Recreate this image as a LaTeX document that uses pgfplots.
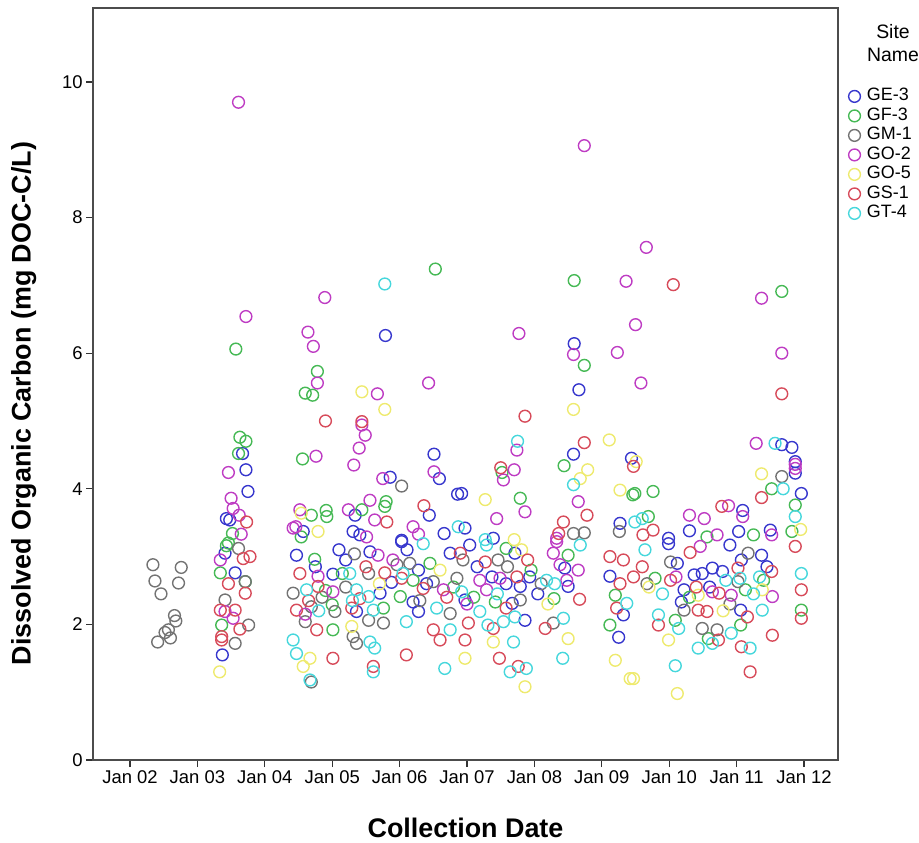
\documentclass[border=0pt]{standalone}
\usepackage{pgfplots}
\pgfplotsset{compat=1.18}
\usepackage{fontspec}
\setmainfont{Liberation Sans}
\definecolor{cGE}{RGB}{55,55,205}
\definecolor{cGF}{RGB}{70,185,85}
\definecolor{cGM}{RGB}{115,115,115}
\definecolor{cGO}{RGB}{190,60,195}
\definecolor{cGY}{RGB}{238,234,110}
\definecolor{cGS}{RGB}{215,75,90}
\definecolor{cGT}{RGB}{70,215,220}
\begin{document}
\begin{tikzpicture}
\begin{axis}[
  name=ax,
  scale only axis, width=745bp, height=752bp,
  xmin=2001.451, xmax=2012.504, ymin=0, ymax=11.09,
  xtick={2002,2003,2004,2005,2006,2007,2008,2009,2010,2011,2012},
  xticklabels={Jan 02,Jan 03,Jan 04,Jan 05,Jan 06,Jan 07,Jan 08,Jan 09,Jan 10,Jan 11,Jan 12},
  ytick={0,2,4,6,8,10},
  tick align=outside, tick pos=left, major tick length=7bp,
  axis line style={black!70, line width=1.2bp},
  every tick/.style={black!80, line width=1.2bp},
  tick label style={font=\fontsize{18.5}{18.5}\selectfont},
  /pgf/number format/assume math mode=true,
  xlabel={Collection Date},
  ylabel={Dissolved Organic Carbon (mg DOC-C/L)},
  label style={font=\bfseries\fontsize{27}{27}\selectfont},
  xlabel style={at={(axis description cs:0.5,-0.09)}, anchor=center},
  ylabel style={at={(axis description cs:-0.093,0.474)}, anchor=center},
  every axis plot/.append style={only marks, mark=o, mark size=5.9bp, line width=1.4bp},
  legend style={at={(axis description cs:1.014,0.893)}, anchor=north west,
    draw=none, fill=none, font=\fontsize{18}{18}\selectfont,
    row sep=4bp, inner sep=0pt,
    nodes={inner sep=0.5bp, text height=11.5bp, text depth=3bp},
    /tikz/every odd column/.append style={column sep=6bp}},
  legend cell align=left,
  legend image code/.code={\draw[mark repeat=2,mark phase=2,#1] plot coordinates {(0bp,0bp) (7bp,0bp) (14bp,0bp)};},
]
% GE-3
\addplot[color=cGE] coordinates {
(2005.79,6.26) (2008.59,6.14) (2008.66,5.46) (2003.67,4.52) (2003.72,4.28) (2003.75,3.96)
(2003.43,3.56) (2003.48,3.54) (2003.41,3.05) (2003.56,2.76) (2003.37,1.55) (2006.51,4.51)
(2005.86,4.17) (2006.59,4.15) (2006.86,3.92) (2006.44,3.61) (2005.34,3.61) (2004.57,3.37)
(2005.31,3.37) (2005.41,3.32) (2006.66,3.34) (2006.03,3.24) (2004.47,3.02) (2005.56,3.07)
(2006.03,3.22) (2006.11,3.10) (2006.75,3.05) (2006.28,2.80) (2005.01,2.74) (2005.71,2.46)
(2006.20,2.33) (2005.36,2.19) (2006.28,2.19) (2008.58,4.51) (2009.44,4.45) (2006.92,3.93)
(2006.97,3.42) (2009.27,3.49) (2007.39,3.27) (2007.04,3.17) (2007.71,3.05) (2008.45,2.83)
(2009.12,2.71) (2007.37,2.70) (2007.58,2.60) (2007.93,2.70) (2007.79,2.56) (2008.50,2.56)
(2006.97,2.36) (2007.67,2.31) (2009.32,2.14) (2007.86,2.06) (2009.25,1.81) (2011.67,4.65)
(2011.82,4.61) (2011.87,4.40) (2011.87,4.23) (2011.96,3.93) (2011.09,3.68) (2010.30,3.38)
(2011.03,3.37) (2011.50,3.39) (2009.99,3.27) (2009.99,3.19) (2010.90,3.17) (2011.37,3.02)
(2010.12,2.90) (2010.37,2.73) (2010.49,2.75) (2010.64,2.83) (2010.79,2.78) (2011.07,2.95)
(2010.22,2.51) (2010.18,2.33) (2011.06,2.21) (2005.10,3.10)
(2005.20,2.95) (2006.40,2.60) (2007.15,2.85) (2008.05,2.45) (2010.60,2.55) (2011.45,2.85)
(2004.75,2.85) (2005.88,2.62)
};
\addlegendentry{GE-3}
% GF-3
\addplot[color=cGF] coordinates {
(2006.53,7.24) (2003.57,6.06) (2004.78,5.73) (2008.59,7.07) (2011.67,6.91) (2008.74,5.82)
(2003.63,4.76) (2003.72,4.70) (2003.61,4.52) (2003.52,3.34) (2003.46,3.20) (2003.43,3.16)
(2003.34,2.76) (2003.71,2.63) (2003.36,1.99) (2004.60,5.41) (2004.71,5.38) (2004.56,4.44)
(2005.80,3.81) (2005.78,3.74) (2004.69,3.61) (2004.91,3.68) (2004.92,3.59) (2004.54,3.29)
(2004.74,2.96) (2006.45,2.90) (2006.01,2.41) (2005.00,2.29) (2005.76,2.24) (2005.01,1.92)
(2008.44,4.34) (2007.52,4.24) (2009.46,3.91) (2007.79,3.86) (2007.58,3.12) (2008.50,3.02)
(2007.42,2.33) (2008.29,2.38) (2009.20,2.43) (2009.12,1.99) (2011.52,4.00) (2009.49,3.93)
(2009.76,3.96) (2011.87,3.76) (2009.69,3.59) (2011.82,3.37) (2010.56,3.29) (2011.25,3.32)
(2009.79,2.68) (2011.13,2.51) (2011.06,1.99) (2010.09,2.06) (2010.58,1.79) (2011.96,2.21)
(2005.44,3.69)
(2005.15,2.75) (2006.20,2.65) (2007.10,2.40) (2007.95,2.80) (2010.30,2.40) (2011.40,2.65)
(2004.90,2.50) (2006.80,2.55)
};
\addlegendentry{GF-3}
% GM-1
\addplot[color=cGM] coordinates {
(2002.34,2.88) (2002.76,2.84) (2002.37,2.64) (2002.72,2.61) (2002.46,2.45) (2002.66,2.13)
(2002.68,2.05) (2002.57,1.92) (2002.52,1.88) (2002.41,1.74) (2002.60,1.80) (2003.61,3.12)
(2003.71,2.63) (2003.41,2.36) (2003.76,1.99) (2003.56,1.72) (2006.03,4.04) (2005.33,3.04)
(2005.96,2.88) (2006.15,2.90) (2005.54,2.75) (2006.50,2.63) (2006.85,2.68) (2004.42,2.46)
(2006.75,2.16) (2004.69,2.26) (2005.04,2.19) (2004.60,2.04) (2005.54,2.06) (2005.76,2.02)
(2005.31,1.82) (2005.36,1.72) (2004.69,1.15) (2008.58,3.34) (2008.74,3.35) (2009.26,3.37)
(2006.94,2.95) (2007.46,2.95) (2007.79,2.36) (2008.28,2.02) (2011.67,4.18) (2010.02,2.92)
(2011.17,3.05) (2009.67,2.60) (2011.02,2.63) (2010.22,2.21) (2010.49,1.94) (2010.71,1.92)
(2005.20,2.55) (2006.30,2.35) (2007.60,2.85) (2008.10,2.60) (2010.90,2.30) (2004.85,2.40)
};
\addlegendentry{GM-1}
% GO-2
\addplot[color=cGO] coordinates {
(2003.61,9.70) (2008.74,9.06) (2004.89,6.82) (2003.72,6.54) (2004.64,6.31) (2004.72,6.10)
(2004.78,5.56) (2006.43,5.56) (2009.66,7.56) (2009.36,7.06) (2011.37,6.81) (2007.77,6.29)
(2008.58,5.98) (2009.50,6.42) (2009.23,6.01) (2011.67,6.00) (2009.58,5.56) (2003.46,4.24)
(2003.50,3.86) (2003.53,3.71) (2003.62,3.61) (2003.65,3.33) (2004.42,3.42) (2003.34,2.95)
(2003.41,2.19) (2003.53,2.09) (2005.67,5.40) (2004.76,4.48) (2005.44,4.94) (2005.49,4.79)
(2005.40,4.60) (2005.32,4.35) (2005.75,4.15) (2006.51,4.25) (2005.56,3.83) (2004.52,3.69)
(2005.24,3.69) (2005.63,3.54) (2004.46,3.44) (2005.51,3.29) (2006.20,3.44) (2006.28,3.33)
(2005.68,3.02) (2004.79,2.71) (2005.01,2.48) (2006.65,2.51) (2007.74,4.57) (2007.70,4.28)
(2007.54,4.13) (2008.65,3.81) (2007.86,3.66) (2007.44,3.56) (2008.33,3.27) (2008.33,3.22)
(2008.28,3.05) (2008.38,2.88) (2007.19,2.65) (2007.49,2.68) (2008.48,2.65) (2007.29,2.51)
(2011.29,4.67) (2011.87,4.30) (2011.87,4.36) (2010.88,3.75) (2010.30,3.61) (2010.52,3.56)
(2011.09,3.59) (2011.52,3.32) (2010.71,3.32) (2010.46,3.15) (2010.64,2.48) (2010.92,2.43)
(2011.53,2.41)
(2005.90,2.95) (2007.00,2.30) (2008.65,2.80) (2010.10,2.70) (2004.60,2.15)
};
\addlegendentry{GO-2}
% GO-5
\addplot[color=cGY] coordinates {
(2005.44,5.43) (2005.78,5.17) (2004.54,3.64) (2004.79,3.37) (2005.29,1.97) (2004.67,1.50)
(2004.57,1.38) (2008.58,5.17) (2009.11,4.72) (2008.79,4.28) (2008.68,4.15) (2009.27,3.98)
(2007.27,3.84) (2007.70,3.25) (2008.50,1.79) (2007.39,1.74) (2009.20,1.47) (2006.97,1.50)
(2007.86,1.08) (2009.42,1.20) (2009.51,4.40) (2011.37,4.22) (2011.38,2.51) (2009.99,1.77)
(2009.47,1.20) (2010.12,0.98) (2011.95,3.40) (2010.43,2.43) (2007.81,3.10) (2003.33,1.30)
(2005.70,2.60) (2006.60,2.80) (2008.20,2.30) (2009.70,2.55) (2010.80,2.20)
};
\addlegendentry{GO-5}
% GS-1
\addplot[color=cGS] coordinates {
(2010.06,7.01) (2011.67,5.40) (2003.73,3.51) (2003.68,2.97) (2003.78,3.00) (2003.46,2.60)
(2003.71,2.46) (2003.34,2.21) (2003.56,2.21) (2003.63,1.93) (2003.36,1.82) (2003.36,1.77)
(2004.90,5.00) (2005.44,4.99) (2006.36,3.75) (2005.81,3.51) (2006.90,3.05) (2004.52,2.75)
(2005.78,2.76) (2006.03,2.68) (2006.35,2.53) (2004.79,2.56) (2005.41,2.38) (2004.47,2.21)
(2005.29,2.24) (2004.77,1.92) (2006.50,1.92) (2006.60,1.77) (2005.01,1.50) (2006.10,1.55)
(2005.61,1.38) (2007.86,5.07) (2008.74,4.68) (2007.50,4.31) (2009.47,4.33) (2008.78,3.61)
(2008.43,3.51) (2008.36,3.34) (2007.27,2.92) (2009.12,3.00) (2009.32,2.95) (2009.27,2.60)
(2007.74,2.70) (2007.58,2.24) (2008.67,2.37) (2009.22,2.24) (2007.02,2.02) (2007.39,1.94)
(2008.16,1.94) (2006.97,1.77) (2007.48,1.50) (2007.76,1.38) (2011.37,3.87) (2010.78,3.74)
(2009.76,3.39) (2009.61,3.32) (2010.31,3.06) (2011.87,3.15) (2011.96,2.51) (2011.96,2.09)
(2009.47,2.70) (2010.02,2.65) (2011.02,2.83) (2011.52,2.78) (2010.74,2.46) (2011.16,2.11)
(2010.43,2.21) (2010.56,2.19) (2009.84,1.99) (2010.73,1.77) (2011.07,1.67) (2011.53,1.84)
(2011.20,1.30)
(2005.50,2.85) (2006.70,2.40) (2007.90,2.95) (2009.60,2.85) (2010.40,2.55) (2004.65,2.35)
};
\addlegendentry{GS-1}
% GT-4
\addplot[color=cGT] coordinates {
(2005.78,7.02) (2006.87,3.44) (2006.35,3.19) (2005.26,2.75) (2004.62,2.51) (2005.36,2.51)
(2006.55,2.24) (2005.61,2.21) (2006.10,2.04) (2006.75,1.92) (2004.42,1.77) (2005.56,1.74)
(2005.63,1.65) (2004.47,1.57) (2005.61,1.30) (2006.67,1.35) (2004.67,1.18) (2007.75,4.70)
(2008.58,4.06) (2007.27,3.25) (2008.68,3.17) (2008.18,2.65) (2006.92,2.48) (2009.37,2.31)
(2007.19,2.19) (2007.71,2.11) (2007.54,2.04) (2008.43,2.09) (2007.69,1.74) (2008.42,1.50)
(2007.64,1.30) (2011.57,4.67) (2011.69,4.00) (2011.87,3.59) (2009.60,3.56) (2009.49,3.51)
(2009.64,3.10) (2011.96,2.75) (2010.84,2.65) (2011.34,2.70) (2011.38,2.21) (2009.84,2.14)
(2010.14,1.94) (2010.92,1.87) (2010.64,1.72) (2010.43,1.65) (2011.20,1.65) (2010.09,1.39)
(2005.54,2.41) (2007.29,3.17) (2007.31,1.99) (2007.88,1.35) (2011.05,2.68)
(2005.30,2.35) (2006.05,2.75) (2007.45,2.45) (2008.30,2.60) (2009.90,2.45) (2011.25,2.45)
(2004.80,2.20)
};
\addlegendentry{GT-4}
\end{axis}
\node[align=center, font=\fontsize{19.5}{23}\selectfont, xshift=55bp, yshift=-35.5bp] at (ax.north east) {Site\\Name};
\pgfresetboundingbox
\path ([shift={(-93bp,-83bp)}]ax.south west) rectangle ([shift={(826bp,760bp)}]ax.south west);
\end{tikzpicture}
\end{document}
